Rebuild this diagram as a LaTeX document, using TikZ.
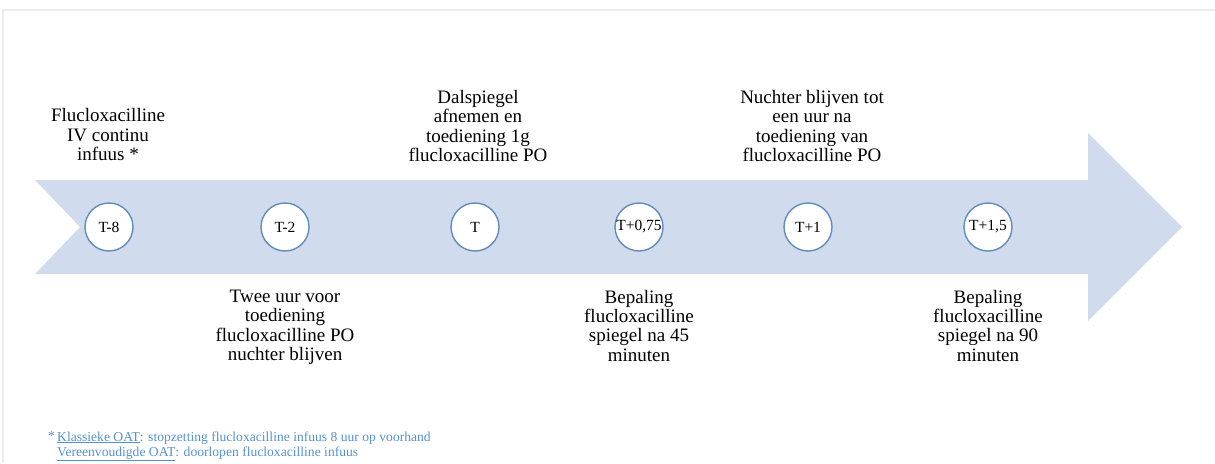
\documentclass[tikz,border=0pt]{standalone}
\usepackage{fontspec}
\setmainfont{Liberation Serif}
\usepackage{tikz}
\usetikzlibrary{positioning}
\definecolor{arrowfill}{RGB}{208,220,238}
\definecolor{ringblue}{RGB}{98,140,188}
\definecolor{noteblue}{RGB}{86,146,210}
\definecolor{framegray}{RGB}{236,236,238}
\tikzset{%
    tpoint/.style={%
        circle, draw=ringblue, line width=1.4pt, fill=white,
        minimum size=48pt, inner sep=0pt,
        font=\fontsize{15.5}{16}\selectfont
    },
    stepnote/.style={%
        align=center, inner sep=0pt,
        font=\fontsize{19}{19.4}\selectfont
    }
}

\begin{document}
\begin{tikzpicture}[x=1pt,y=-1pt]
    \useasboundingbox (0,0) rectangle (1215,463);
    \draw[framegray,line width=1.5pt] (3,463)--(3,10)--(1215,10);
    % the time axis
    \fill[arrowfill] (35,180)--(1088,180)--(1088,133)--(1182,227)
        --(1088,321)--(1088,274)--(35,274)--(80,227)--cycle;
    \foreach \x/\lbl/\nm in {109/T-8/tm8, 285/T-2/tm2, 475/T/t0,
                             639/T+0{,}75/tp075, 808/T+1/tp1, 988/T+1{,}5/tp15}
    {
    \node[tpoint] (\nm) at (\x,227) {\lbl};
    }
    % above the axis
    \node[stepnote,anchor=south] (infuus) at (108,161)
        {Flucloxacilline\\IV continu\\infuus *};
    \node[stepnote,anchor=south] (dal) at (478,162)
        {Dalspiegel\\afnemen en\\toediening 1g\\flucloxacilline PO};
    \node[stepnote,anchor=south] (nuchter) at (812,162)
        {Nuchter blijven tot\\een uur na\\toediening van\\flucloxacilline PO};
    % below the axis
    \node[stepnote,below=38pt of tm2] (twee) {Twee uur voor\\toediening\\flucloxacilline PO\\nuchter blijven};
    \node[stepnote,below=38pt of tp075] (bep45) {Bepaling\\flucloxacilline\\spiegel na 45\\minuten};
    \node[stepnote,below=38pt of tp15] (bep90) {Bepaling\\flucloxacilline\\spiegel na 90\\minuten};
    % footnote
    \node[anchor=base west,align=left,inner sep=0pt,text=noteblue,
          font=\fontsize{13.6}{15}\selectfont] (voetnoot) at (57,456)
        {\llap{\raisebox{1pt}{*}\,}\underline{Klassieke OAT}: stopzetting flucloxacilline infuus 8 uur op voorhand\\
         \underline{Vereenvoudigde OAT}: doorlopen flucloxacilline infuus};
\end{tikzpicture}
\end{document}
